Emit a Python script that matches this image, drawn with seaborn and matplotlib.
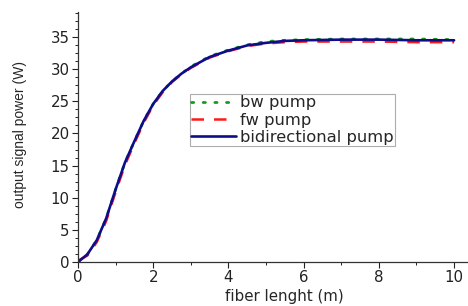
import matplotlib
matplotlib.use("Agg")
import matplotlib.pyplot as plt
from matplotlib.ticker import MultipleLocator
import seaborn as sns
import pandas as pd

# fiber length (m) and output signal power (W)
length = [0, 0.25, 0.5, 0.75, 1.0, 1.25, 1.5, 1.75, 2.0, 2.25, 2.5, 2.75,
          3.0, 3.5, 4.0, 4.5, 5.0, 5.5, 6.0, 7.0, 8.0, 9.0, 10.0]
bidir = [0.0, 1.2, 3.4, 6.8, 11.3, 15.5, 18.8, 22.0, 24.6, 26.6, 28.1, 29.3,
         30.3, 31.9, 32.9, 33.7, 34.1, 34.4, 34.5, 34.6, 34.6, 34.5, 34.5]
bw = [0.0, 1.2, 3.4, 6.8, 11.3, 15.5, 18.8, 22.0, 24.6, 26.6, 28.1, 29.3,
      30.4, 32.0, 33.0, 33.8, 34.3, 34.5, 34.6, 34.7, 34.7, 34.7, 34.6]
fw = [0.2, 1.0, 3.1, 6.4, 10.9, 15.1, 18.5, 21.7, 24.4, 26.4, 28.0, 29.2,
      30.2, 31.8, 32.8, 33.6, 34.0, 34.2, 34.3, 34.3, 34.3, 34.2, 34.2]

df = pd.DataFrame({"x": length, "bw": bw, "fw": fw, "bi": bidir})

sns.set_style("ticks")
# the reference text looks like a horizontally stretched Arial -> DejaVu is close
plt.rcParams["font.family"] = ["DejaVu Sans"]

fig = plt.figure(figsize=(4.68, 3.06), dpi=100)
ax = fig.add_axes([78 / 468, 44 / 306, 390 / 468, 250 / 306])

sns.lineplot(data=df, x="x", y="bw", ax=ax, color="#1a9a1a", lw=2.0,
             linestyle=(0, (0.8, 3.4)), dash_capstyle="round", label="bw pump")
sns.lineplot(data=df, x="x", y="fw", ax=ax, color="#ff1a1a", lw=1.8,
             linestyle=(0, (5, 4)), label="fw pump")
sns.lineplot(data=df, x="x", y="bi", ax=ax, color="#0d0d8c", lw=1.9,
             label="bidirectional pump")

ax.set_xlim(0, 10.37)
ax.set_ylim(0, 38.9)
ax.xaxis.set_major_locator(MultipleLocator(2))
ax.xaxis.set_minor_locator(MultipleLocator(1))
ax.yaxis.set_major_locator(MultipleLocator(5))
ax.yaxis.set_minor_locator(MultipleLocator(1.25))
ax.tick_params(which="major", length=4, width=0.8, labelsize=10.8, pad=2,
               colors="#222222")
ax.tick_params(which="minor", length=2.5, width=0.7, colors="#222222")
for s in ["top", "right"]:
    ax.spines[s].set_visible(False)
for s in ["left", "bottom"]:
    ax.spines[s].set_color("#333333")
    ax.spines[s].set_linewidth(0.9)

ax.set_xlabel("fiber lenght (m)", fontsize=10.8)
ax.xaxis.set_label_coords(0.528, -0.11)
ax.set_ylabel("output signal power (W)", fontsize=10,
              family=["Liberation Sans", "DejaVu Sans"])
ax.yaxis.set_label_coords(-0.131, 0.508)

leg = ax.legend(loc="lower left", bbox_to_anchor=(0.287, 0.464), fontsize=11.8,
                frameon=True, fancybox=False, handlelength=2.75,
                handletextpad=0.2, borderpad=0.08, labelspacing=0.13,
                borderaxespad=0)
leg.get_frame().set_edgecolor("#999999")
leg.get_frame().set_linewidth(0.8)

fig.savefig("out.png", dpi=100)
